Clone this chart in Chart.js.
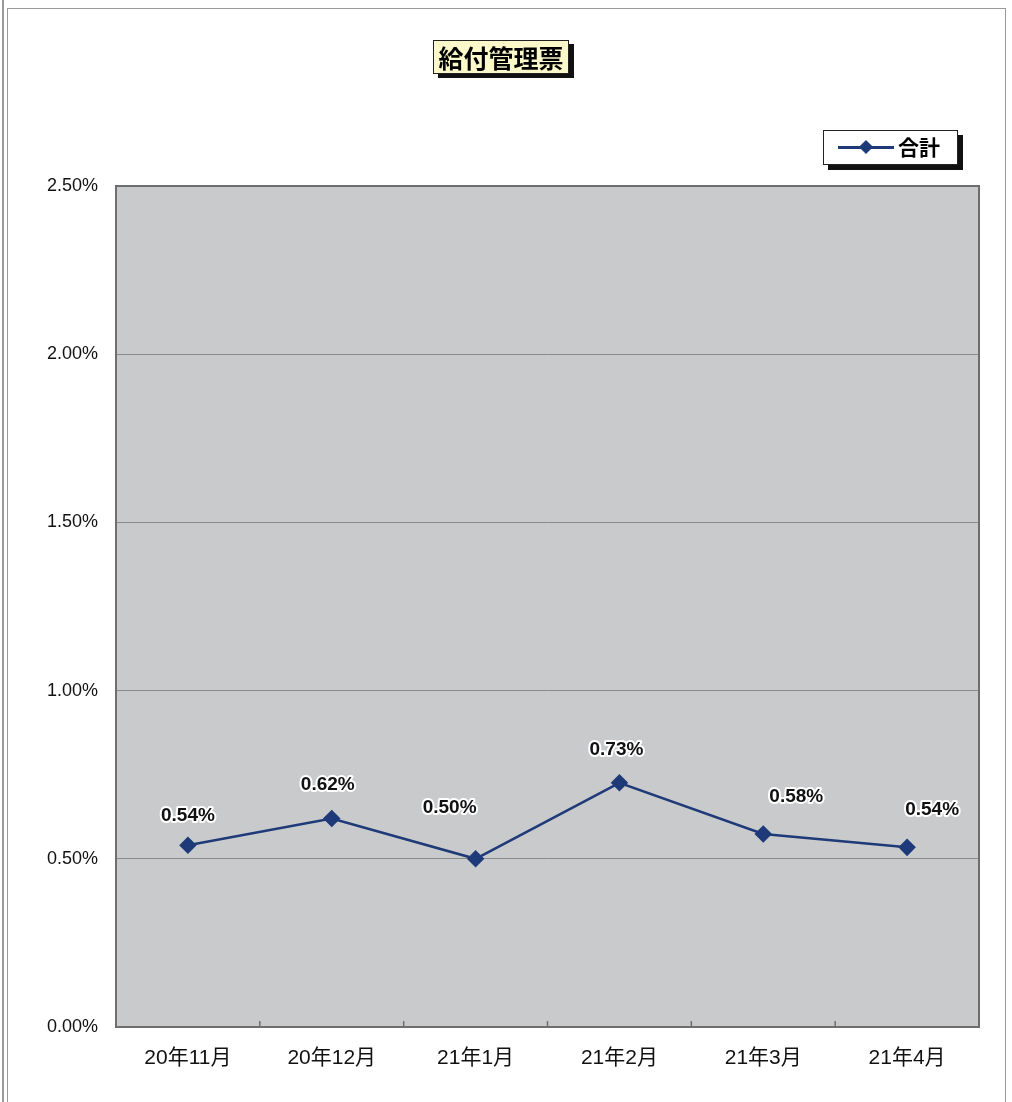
<!DOCTYPE html>
<html>
<head>
<meta charset="utf-8">
<script src="https://cdn.jsdelivr.net/npm/chart.js@4"></script>
<style>
    body { margin: 0; background: #fff; }
    #wrap { position: relative; width: 1012px; height: 1102px; overflow: hidden; }
    #myChart { position: absolute; left: 0; top: 0; }
    .frame { position: absolute; border: 1px solid #9a9a9a; }
    .ttl {
        position: absolute; left: 433px; top: 40px; width: 134px; height: 32px;
        background: #fbf9c9; border: 1px solid #222; box-shadow: 5px 4px 0 #111;
        font: bold 25px "Noto Sans CJK JP", sans-serif; line-height: 32px; text-align: center;
    }
    .lgd {
        position: absolute; left: 823px; top: 130px; width: 133px; height: 33px;
        background: #fff; border: 1px solid #222; box-shadow: 5px 5px 0 #111;
        font: bold 21px "Noto Sans CJK JP", sans-serif; line-height: 33px;
    }
    .lgd .ln { position: absolute; left: 14px; top: 15px; width: 56px; height: 3px; background: #1f3a78; }
    .lgd .dm { position: absolute; left: 37px; top: 11px; width: 10px; height: 10px; background: #1f3a78; transform: rotate(45deg); }
    .lgd .tx { position: absolute; left: 74px; top: -1px; }
</style>
</head>
<body>
<div id="wrap">
    <canvas id="myChart" width="1012" height="1102"></canvas>
    <div class="frame" style="left:2px; top:-5px; width:0; height:1120px;"></div>
    <div class="frame" style="left:7px; top:8px; width:997px; height:1110px;"></div>
    <div class="ttl">給付管理票</div>
    <div class="lgd"><div class="ln"></div><div class="dm"></div><div class="tx">合計</div></div>
</div>
<script>
/* chart data */
const months = ["20年11月", "20年12月", "21年1月", "21年2月", "21年3月", "21年4月"];
const totals = [0.54, 0.62, 0.50, 0.726, 0.574, 0.534];
const totalLabels = ["0.54%", "0.62%", "0.50%", "0.73%", "0.58%", "0.54%"];
const yTicks = [0, 0.5, 1.0, 1.5, 2.0, 2.5];

// label placement relative to each point (dx, dy)
const labelShift = [[0, -30], [-4, -34], [-26, -51], [-3, -33], [33, -37], [25, -38]];

const plotBg = {
    id: "plotBg",
    beforeDraw(chart) {
        const a = chart.chartArea, ctx = chart.ctx;
        ctx.save();
        ctx.fillStyle = "#c9cacc";
        ctx.fillRect(a.left, a.top, a.right - a.left, a.bottom - a.top);
        ctx.restore();
    },
    afterDatasetsDraw(chart) {
        const a = chart.chartArea, ctx = chart.ctx;
        ctx.save();
        ctx.strokeStyle = "#6e6e6e";
        ctx.lineWidth = 2;
        ctx.strokeRect(a.left, a.top, a.right - a.left, a.bottom - a.top);
        // small tick marks between categories
        const xs = chart.scales.x;
        ctx.lineWidth = 1.5;
        for (let i = 1; i < months.length; i++) {
            const x = (xs.getPixelForValue(i - 1) + xs.getPixelForValue(i)) / 2;
            ctx.beginPath();
            ctx.moveTo(x, a.bottom);
            ctx.lineTo(x, a.bottom - 6);
            ctx.stroke();
        }
        // data labels
        const meta = chart.getDatasetMeta(0);
        ctx.font = "bold 19px 'Liberation Sans', sans-serif";
        ctx.textAlign = "center";
        ctx.textBaseline = "middle";
        ctx.lineJoin = "round";
        meta.data.forEach((pt, i) => {
            const x = pt.x + labelShift[i][0], y = pt.y + labelShift[i][1];
            ctx.strokeStyle = "#ffffff";
            ctx.lineWidth = 4;
            ctx.strokeText(totalLabels[i], x, y);
            ctx.fillStyle = "#111111";
            ctx.fillText(totalLabels[i], x, y);
        });
        ctx.restore();
    },
};

const data = {
    labels: months,
    datasets: [
        {
            label: "合計",
            data: totals,
            borderColor: "#1f3a78",
            backgroundColor: "#1f3a78",
            borderWidth: 2.5,
            pointStyle: "rectRot",
            pointRadius: 7,
            pointBorderColor: "#1f3a78",
            pointBackgroundColor: "#1f3a78",
            tension: 0,
        },
    ],
};

const config = {
    type: "line",
    data: data,
    plugins: [plotBg],
    options: {
        responsive: false,
        animation: false,
        layout: { padding: { left: 0, right: 33, top: 186, bottom: 0 } },
        plugins: {
            legend: { display: false },
            tooltip: { enabled: false },
        },
        scales: {
            x: {
                offset: true,
                afterFit: (s) => { s.height = 75; },
                grid: { display: false, drawTicks: false },
                border: { display: false },
                ticks: {
                    color: "#111",
                    padding: 19,
                    font: { size: 21, family: "'Liberation Sans', 'Noto Sans CJK JP', sans-serif" },
                },
            },
            y: {
                min: 0,
                max: 2.5,
                afterFit: (s) => { s.width = 116; },
                afterBuildTicks: (s) => { s.ticks = yTicks.map((v) => ({ value: v })); },
                grid: { color: "#8a8a8a", lineWidth: 1, drawTicks: false },
                border: { display: false },
                ticks: {
                    color: "#111",
                    padding: 18,
                    font: { size: 18, family: "'Liberation Sans', sans-serif" },
                    callback: (v) => v.toFixed(2) + "%",
                },
            },
        },
    },
};
const myChart = new Chart(document.getElementById("myChart"), config);
</script>
</body>
</html>
